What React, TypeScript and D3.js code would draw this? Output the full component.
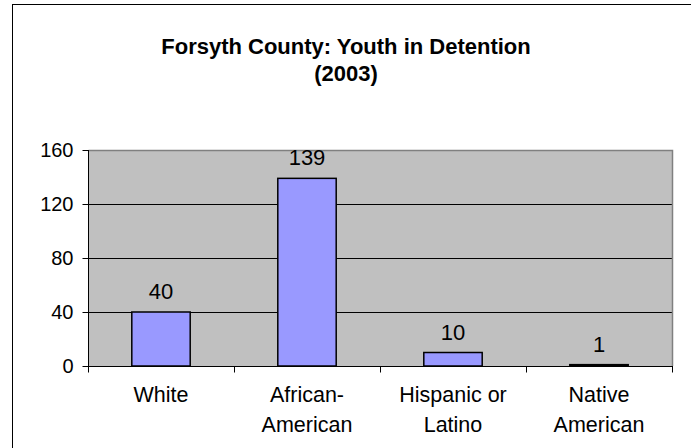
import React, { useEffect, useRef } from 'react';
import * as d3 from 'd3';

// chart data
const categories = ['White', 'African-American', 'Hispanic or Latino', 'Native American'];
const categoryLines = [['White'], ['African-', 'American'], ['Hispanic or', 'Latino'], ['Native', 'American']];
const counts = [40, 139, 10, 1];
const yTicks = [0, 40, 80, 120, 160];
const titleLines = ['Forsyth County: Youth in Detention', '(2003)'];

const W = 691;
const H = 448;

const App = () => {
  const svgRef = useRef<SVGSVGElement>(null);

  useEffect(() => {
    const svg = d3.select(svgRef.current);
    svg.selectAll('*').remove();

    const plot = { left: 88, right: 672, top: 150, bottom: 366 };
    const font = "'Liberation Sans', Arial, sans-serif";

    //outer chart frame, runs off the right and bottom edge
    svg
      .append('rect')
      .attr('x', 13.5)
      .attr('y', 5.5)
      .attr('width', W + 20)
      .attr('height', H + 20)
      .attr('fill', 'none')
      .attr('stroke', '#999')
      .attr('stroke-width', 1);
    svg
      .append('rect')
      .attr('x', 12.5)
      .attr('y', 4.5)
      .attr('width', W + 20)
      .attr('height', H + 20)
      .attr('fill', 'white')
      .attr('stroke', 'black')
      .attr('stroke-width', 1);

    //title
    svg
      .append('g')
      .selectAll('text')
      .data(titleLines)
      .enter()
      .append('text')
      .attr('x', 346)
      .attr('y', (d, i) => 54 + i * 27)
      .attr('text-anchor', 'middle')
      .attr('font-family', font)
      .attr('font-weight', 'bold')
      .attr('font-size', '22px')
      .text((d) => d);

    const x = d3
      .scaleBand()
      .domain(categories)
      .range([plot.left, plot.right])
      .paddingInner(0.6)
      .paddingOuter(0.3);

    const y = d3.scaleLinear().domain([0, 160]).range([plot.bottom, plot.top]);

    //plot area background
    svg
      .append('rect')
      .attr('x', plot.left)
      .attr('y', plot.top)
      .attr('width', plot.right - plot.left)
      .attr('height', plot.bottom - plot.top)
      .attr('fill', '#C0C0C0');

    //gridlines
    svg
      .append('g')
      .selectAll('line')
      .data(yTicks.filter((t) => t > 0 && t < 160))
      .enter()
      .append('line')
      .attr('x1', plot.left)
      .attr('x2', plot.right)
      .attr('y1', (d) => Math.round(y(d)) + 0.5)
      .attr('y2', (d) => Math.round(y(d)) + 0.5)
      .attr('stroke', 'black')
      .attr('stroke-width', 1);

    //plot border (gray on top and right)
    svg
      .append('path')
      .attr('d', `M${plot.left + 0.5},${plot.top + 0.5}H${plot.right + 0.5}V${plot.bottom}`)
      .attr('fill', 'none')
      .attr('stroke', '#808080')
      .attr('stroke-width', 1.5);

    //bars
    svg
      .append('g')
      .selectAll('rect')
      .data(counts)
      .enter()
      .append('rect')
      .attr('x', (d, i) => x(categories[i]))
      .attr('y', (d) => y(d))
      .attr('width', x.bandwidth())
      .attr('height', (d) => y(0) - y(d))
      .attr('fill', '#9999FF')
      .attr('stroke', 'black')
      .attr('stroke-width', 1.5);

    //value labels
    svg
      .append('g')
      .selectAll('text')
      .data(counts)
      .enter()
      .append('text')
      .attr('x', (d, i) => x(categories[i]) + x.bandwidth() / 2)
      .attr('y', (d) => y(d) - 13)
      .attr('text-anchor', 'middle')
      .attr('font-family', font)
      .attr('font-size', '22px')
      .text((d) => d);

    //y axis
    const yAxis = svg
      .append('g')
      .attr('transform', `translate(${plot.left + 0.5},0)`)
      .call(d3.axisLeft(y).tickValues(yTicks).tickSize(6).tickPadding(9));
    yAxis.select('.domain').attr('stroke', 'black').attr('d', `M0,${plot.top}V${plot.bottom}`);
    yAxis.selectAll('.tick line').attr('stroke', 'black');
    yAxis
      .selectAll('.tick text')
      .attr('font-family', font)
      .attr('font-size', '20px')
      .attr('fill', 'black');

    //x axis with ticks at category boundaries
    const xb = d3.scaleLinear().domain([0, categories.length]).range([plot.left, plot.right]);
    const xAxis = svg.append('g').attr('transform', `translate(0,${plot.bottom + 0.5})`);
    xAxis
      .append('line')
      .attr('x1', plot.left)
      .attr('x2', plot.right + 1)
      .attr('stroke', 'black');
    xAxis
      .selectAll('.tk')
      .data(d3.range(categories.length + 1))
      .enter()
      .append('line')
      .attr('class', 'tk')
      .attr('x1', (d) => Math.round(xb(d)) + 0.5)
      .attr('x2', (d) => Math.round(xb(d)) + 0.5)
      .attr('y1', 0)
      .attr('y2', 6)
      .attr('stroke', 'black');

    //category labels
    const labels = svg
      .append('g')
      .selectAll('text')
      .data(categoryLines)
      .enter()
      .append('text')
      .attr('x', (d, i) => x(categories[i]) + x.bandwidth() / 2)
      .attr('y', 402)
      .attr('text-anchor', 'middle')
      .attr('font-family', font)
      .attr('font-size', '21.5px');
    labels
      .selectAll('tspan')
      .data((d) => d)
      .enter()
      .append('tspan')
      .attr('x', function () {
        return d3.select(this.parentNode).attr('x');
      })
      .attr('dy', (d, i) => (i === 0 ? 0 : 30))
      .text((d) => d);
  }, []);

  return (
    <svg
      ref={svgRef}
      width={W}
      height={H}
      style={{ position: 'absolute', left: 0, top: 0, background: 'white' }}
    ></svg>
  );
};

export default App;
